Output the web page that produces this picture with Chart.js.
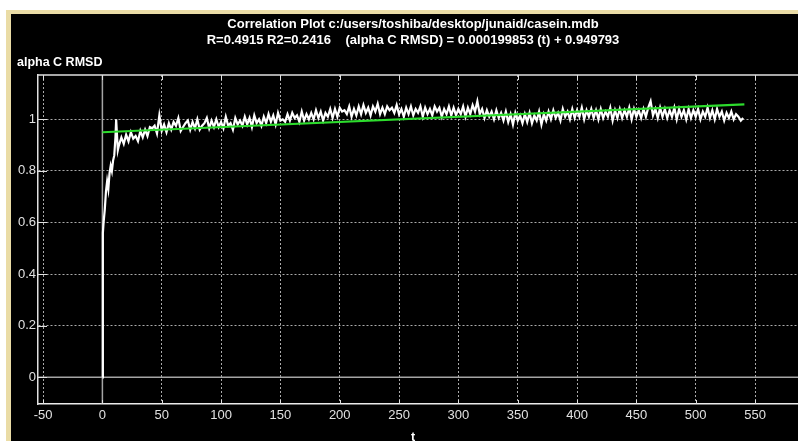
<!DOCTYPE html>
<html><head><meta charset="utf-8">
<script src="https://cdn.jsdelivr.net/npm/chart.js@4.4.0/dist/chart.umd.min.js"></script>
<style>
html,body{margin:0;padding:0;background:#fff;width:798px;height:441px;overflow:hidden;}
#frame{position:absolute;left:6px;top:10px;width:792px;height:431px;background:#eadca6;}
#wrap{position:absolute;left:11px;top:14px;width:787px;height:427px;background:#000;}
canvas{display:block;}
</style></head><body>
<div id="frame"></div>
<div id="wrap"><canvas id="c" width="787" height="427"></canvas></div>
<script>
const titleLine1 = "Correlation Plot c:/users/toshiba/desktop/junaid/casein.mdb";
const titleLine2 = "R=0.4915 R2=0.2416    (alpha C RMSD) = 0.000199853 (t) + 0.949793";
const yAxisLabel = "alpha C RMSD";
const xAxisLabel = "t";

const xTicks = [-50, 0, 50, 100, 150, 200, 250, 300, 350, 400, 450, 500, 550];
const yTicks = [0, 0.2, 0.4, 0.6, 0.8, 1];

const tValues = [
  0, 0.4, 1, 2, 3, 4, 5, 6, 7, 8, 9, 10, 11, 11.6, 13, 14,
  16, 18, 20, 22, 24, 26, 28, 30, 32, 34,
  36, 38, 40, 42, 44, 46, 48, 50, 52, 54,
  56, 58, 60, 62, 64, 66, 68, 70, 72, 74,
  76, 78, 80, 82, 84, 86, 88, 90, 92, 94,
  96, 98, 100, 102, 104, 106, 108, 110, 112, 114,
  116, 118, 120, 122, 124, 126, 128, 130, 132, 134,
  136, 138, 140, 142, 144, 146, 148, 150, 152, 154,
  156, 158, 160, 162, 164, 166, 168, 170, 172, 174,
  176, 178, 180, 182, 184, 186, 188, 190, 192, 194,
  196, 198, 200, 202, 204, 206, 208, 210, 212, 214,
  216, 218, 220, 222, 224, 226, 228, 230, 232, 234,
  236, 238, 240, 242, 244, 246, 248, 250, 252, 254,
  256, 258, 260, 262, 264, 266, 268, 270, 272, 274,
  276, 278, 280, 282, 284, 286, 288, 290, 292, 294,
  296, 298, 300, 302, 304, 306, 308, 310, 312, 314,
  316, 318, 320, 322, 324, 326, 328, 330, 332, 334,
  336, 338, 340, 342, 344, 346, 348, 350, 352, 354,
  356, 358, 360, 362, 364, 366, 368, 370, 372, 374,
  376, 378, 380, 382, 384, 386, 388, 390, 392, 394,
  396, 398, 400, 402, 404, 406, 408, 410, 412, 414,
  416, 418, 420, 422, 424, 426, 428, 430, 432, 434,
  436, 438, 440, 442, 444, 446, 448, 450, 452, 454,
  456, 458, 460, 462, 464, 466, 468, 470, 472, 474,
  476, 478, 480, 482, 484, 486, 488, 490, 492, 494,
  496, 498, 500, 502, 504, 506, 508, 510, 512, 514,
  516, 518, 520, 522, 524, 526, 528, 530, 532, 534,
  536, 538, 540
];

const rmsdValues = [
  0, 0.56, 0.6, 0.65, 0.72, 0.76, 0.73, 0.79, 0.82, 0.80, 0.84, 0.86, 0.93, 1.0, 0.88, 0.90,
  0.93, 0.905, 0.94, 0.915, 0.95, 0.925, 0.935, 0.915, 0.955, 0.93,
  0.96, 0.935, 0.97, 0.965, 0.975, 0.945, 1.015, 0.955, 0.98, 0.95,
  0.985, 0.96, 0.99, 0.975, 1.005, 0.955, 0.97, 0.985, 0.995, 0.96,
  0.99, 0.965, 1.0, 0.96, 0.975, 0.985, 1.005, 0.965, 0.995, 0.97,
  1.0, 0.97, 0.99, 0.965, 1.01, 0.975, 0.985, 0.96, 1.005, 0.98,
  0.995, 0.975, 1.01, 0.98, 1.005, 0.97, 1.015, 0.985, 1.0, 0.975,
  1.01, 0.985, 1.02, 0.99, 1.015, 0.98, 1.025, 0.995, 1.0, 0.99,
  1.02, 0.995, 1.025, 1.005, 1.015, 0.99, 1.03, 0.995, 1.02, 1.0,
  1.025, 1.0, 1.035, 1.005, 1.03, 0.995, 1.025, 1.01, 1.04, 1.005,
  1.04, 1.01, 1.045, 1.03, 1.035, 1.02, 1.05, 1.01, 1.04, 1.015,
  1.05, 1.02, 1.055, 1.025, 1.045, 1.015, 1.05, 1.03, 1.06, 1.02,
  1.045, 1.02, 1.05, 1.035, 1.045, 1.025, 1.055, 1.02, 1.04, 1.01,
  1.045, 1.02, 1.05, 1.015, 1.04, 1.025, 1.05, 1.01, 1.045, 1.02,
  1.04, 1.015, 1.05, 1.03, 1.045, 1.01, 1.04, 1.02, 1.05, 1.015,
  1.045, 1.015, 1.04, 1.02, 1.05, 1.01, 1.045, 1.02, 1.055, 1.03,
  1.07, 1.02, 1.04, 1.005, 1.035, 1.01, 1.03, 1.0, 1.035, 1.005,
  1.025, 0.995, 1.03, 0.99, 1.02, 0.98, 1.025, 0.995, 1.015, 0.985,
  1.02, 0.99, 1.025, 0.985, 1.015, 0.995, 1.03, 0.98, 1.02, 0.995,
  1.03, 1.0, 1.035, 1.005, 1.025, 0.995, 1.04, 1.01, 1.03, 1.0,
  1.04, 1.005, 1.035, 1.01, 1.045, 1.0, 1.035, 1.01, 1.04, 1.005,
  1.035, 1.0, 1.04, 1.005, 1.03, 1.01, 1.045, 0.995, 1.035, 1.005,
  1.04, 1.005, 1.035, 1.01, 1.045, 1.0, 1.04, 1.01, 1.035, 1.005,
  1.04, 1.01, 1.045, 1.07, 1.015, 1.04, 1.005, 1.045, 1.01, 1.04,
  1.005, 1.035, 1.01, 1.045, 1.0, 1.04, 1.01, 1.035, 1.0, 1.04,
  1.005, 1.035, 1.01, 1.04, 1.0, 1.03, 1.01, 1.045, 1.005, 1.035,
  1.0, 1.04, 1.01, 1.03, 0.995, 1.025, 1.005, 1.03, 1.0, 1.02,
  1.01, 0.995, 1.005
];

const fitT = [0, 541];
const fitValues = [0.949793, 1.057915];

const FONT = "'Liberation Sans', Arial, sans-serif";
const OX = 11, OY = 14; // canvas offset inside page

const decorPlugin = {
  id: 'decor',
  beforeDatasetsDraw(chart) {
    const {ctx, chartArea: a, scales: {x, y}} = chart;
    ctx.save();
    ctx.strokeStyle = 'rgb(165,165,165)';
    ctx.lineWidth = 1.5;
    const x0 = x.getPixelForValue(0);
    const y0 = y.getPixelForValue(0);
    ctx.beginPath();
    ctx.moveTo(x0, a.top); ctx.lineTo(x0, a.bottom);
    ctx.moveTo(a.left, y0); ctx.lineTo(a.right, y0);
    ctx.stroke();
    ctx.restore();
  },
  afterDraw(chart) {
    const {ctx, chartArea: a, scales: {x, y}} = chart;
    ctx.save();
    ctx.strokeStyle = 'rgb(225,225,225)';
    ctx.lineWidth = 1.5;
    ctx.beginPath();
    ctx.moveTo(a.left, a.top); ctx.lineTo(a.right, a.top);
    ctx.stroke();
    ctx.lineWidth = 1;
    ctx.beginPath();
    yTicks.forEach(v => {
      const py = Math.round(y.getPixelForValue(v)) + 0.5;
      ctx.moveTo(a.left, py); ctx.lineTo(a.left + 9, py);
    });
    xTicks.forEach(v => {
      const px = Math.round(x.getPixelForValue(v)) + 0.5;
      ctx.moveTo(px, a.bottom); ctx.lineTo(px, a.bottom - 4);
      ctx.moveTo(px, a.top); ctx.lineTo(px, a.top + 5);
    });
    ctx.stroke();

    ctx.fillStyle = '#ffffff';
    ctx.font = 'bold 13px ' + FONT;
    ctx.textAlign = 'center';
    ctx.textBaseline = 'middle';
    ctx.fillText(titleLine1, 413 - OX, 24.5 - OY);
    ctx.fillText(titleLine2, 413 - OX, 40 - OY);
    ctx.font = 'bold 12.5px ' + FONT;
    ctx.textAlign = 'left';
    ctx.textBaseline = 'alphabetic';
    ctx.fillText(yAxisLabel, 17 - OX, 66 - OY);
    ctx.textAlign = 'center';
    ctx.fillText(xAxisLabel, 413 - OX, 441 - OY);
    ctx.restore();
  }
};

new Chart(document.getElementById('c'), {
  type: 'line',
  data: {
    datasets: [
      {
        data: fitT.map((t, i) => ({x: t, y: fitValues[i]})),
        borderColor: 'rgb(45,220,45)',
        borderWidth: 2.2,
        pointRadius: 0,
        order: 1
      },
      {
        data: tValues.map((t, i) => ({x: t, y: rmsdValues[i]})),
        borderColor: '#ffffff',
        borderWidth: 2.2,
        pointRadius: 0,
        tension: 0,
        order: 2
      }
    ]
  },
  options: {
    responsive: false,
    animation: false,
    devicePixelRatio: 1,
    layout: {padding: {top: 61, right: 0, left: 0, bottom: 0}},
    plugins: {legend: {display: false}, title: {display: false}, tooltip: {enabled: false}},
    scales: {
      x: {
        type: 'linear',
        min: -54.27,
        max: 586.2,
        afterBuildTicks: s => { s.ticks = xTicks.map(v => ({value: v})); },
        afterFit: s => { s.height = 37; },
        grid: {color: 'rgb(170,170,170)', lineWidth: 1, drawTicks: false},
        border: {display: true, color: 'rgb(235,235,235)', width: 1.5, dash: [2, 2]},
        ticks: {color: 'rgb(225,225,225)', font: {family: FONT, size: 13}, padding: 4, maxRotation: 0, autoSkip: false}
      },
      y: {
        type: 'linear',
        min: -0.1035,
        max: 1.1717,
        afterBuildTicks: s => { s.ticks = yTicks.map(v => ({value: v})); },
        afterFit: s => { s.width = 27; },
        grid: {color: 'rgb(170,170,170)', lineWidth: 1, drawTicks: false},
        border: {display: true, color: 'rgb(225,225,225)', width: 1.5, dash: [2, 2]},
        ticks: {color: 'rgb(225,225,225)', font: {family: FONT, size: 13}, padding: 2, autoSkip: false,
          callback: v => String(v)}
      }
    }
  },
  plugins: [decorPlugin]
});
</script>
</body></html>
